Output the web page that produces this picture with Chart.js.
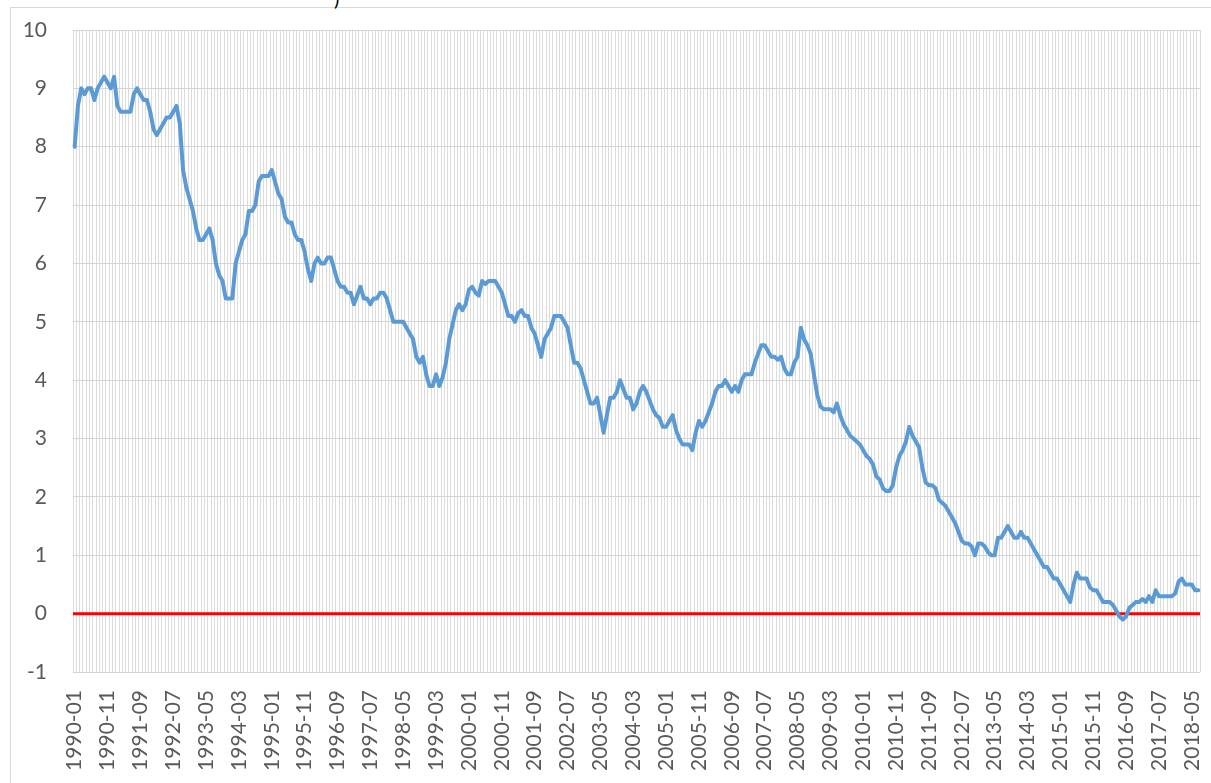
<!DOCTYPE html>
<html>
<head>
<meta charset="utf-8">
<script src="https://cdn.jsdelivr.net/npm/chart.js@4.4.1/dist/chart.umd.min.js"></script>
<style>
  html, body { margin: 0; padding: 0; background: #fff; }
  #wrap { position: relative; width: 1211px; height: 783px; overflow: hidden; }
  #frame { position: absolute; left: 10px; top: 7px; width: 1230px; height: 800px; border: 1px solid #d9d9d9; box-sizing: border-box; }
  #cut { position: absolute; left: 334px; top: -14px; font: 20px Lato, sans-serif; color: #000; }
  canvas { position: absolute; left: 0; top: 0; }
</style>
</head>
<body>
<div id="wrap">
  <div id="frame"></div>
  <div id="cut">)</div>
  <canvas id="chart" width="1211" height="783"></canvas>
</div>
<script>
// monthly values (1990-01 .. 2018-07)
const rates1990s = [
  8.0, 8.7, 9.0, 8.9, 9.0, 9.0, 8.8, 9.0, 9.1, 9.2, 9.1, 9.0,      // 1990
  9.2, 8.7, 8.6, 8.6, 8.6, 8.6, 8.9, 9.0, 8.9, 8.8, 8.8, 8.6,      // 1991
  8.3, 8.2, 8.3, 8.4, 8.5, 8.5, 8.6, 8.7, 8.4, 7.6, 7.3, 7.1,      // 1992
  6.9, 6.6, 6.4, 6.4, 6.5, 6.6, 6.4, 6.0, 5.8, 5.7, 5.4, 5.4,      // 1993
  5.4, 6.0, 6.2, 6.4, 6.5, 6.9, 6.9, 7.0, 7.4, 7.5, 7.5, 7.5,      // 1994
  7.6, 7.4, 7.2, 7.1, 6.8, 6.7, 6.7, 6.5, 6.4, 6.4, 6.2, 5.9,      // 1995
  5.7, 6.0, 6.1, 6.0, 6.0, 6.1, 6.1, 5.9, 5.7, 5.6, 5.6, 5.5,      // 1996
  5.5, 5.3, 5.45, 5.6, 5.4, 5.4, 5.3, 5.4, 5.4, 5.5, 5.5, 5.4,     // 1997
  5.2, 5.0, 5.0, 5.0, 5.0, 4.9, 4.8, 4.7, 4.4, 4.3, 4.4, 4.1,      // 1998
  3.9, 3.9, 4.1, 3.9, 4.05, 4.3, 4.7, 4.95, 5.2, 5.3, 5.2, 5.3     // 1999
];
const rates2000s = [
  5.55, 5.6, 5.5, 5.45, 5.7, 5.65, 5.7, 5.7, 5.7, 5.6, 5.5, 5.3,   // 2000
  5.1, 5.1, 5.0, 5.15, 5.2, 5.1, 5.1, 4.9, 4.8, 4.6, 4.4, 4.7,     // 2001
  4.8, 4.9, 5.1, 5.1, 5.1, 5.0, 4.9, 4.6, 4.3, 4.3, 4.2, 4.0,      // 2002
  3.8, 3.6, 3.6, 3.7, 3.4, 3.1, 3.4, 3.7, 3.7, 3.8, 4.0, 3.85,     // 2003
  3.7, 3.7, 3.5, 3.6, 3.8, 3.9, 3.8, 3.65, 3.5, 3.4, 3.35, 3.2,    // 2004
  3.2, 3.3, 3.4, 3.15, 3.0, 2.9, 2.9, 2.9, 2.8, 3.1, 3.3, 3.2,     // 2005
  3.3, 3.45, 3.6, 3.8, 3.9, 3.9, 4.0, 3.9, 3.8, 3.9, 3.8, 4.0,     // 2006
  4.1, 4.1, 4.1, 4.3, 4.45, 4.6, 4.6, 4.5, 4.4, 4.4, 4.35, 4.4,    // 2007
  4.2, 4.1, 4.1, 4.3, 4.4, 4.9, 4.7, 4.6, 4.45, 4.1, 3.75, 3.55,   // 2008
  3.5, 3.5, 3.5, 3.45, 3.6, 3.4, 3.25, 3.15, 3.05, 3.0, 2.95, 2.9  // 2009
];
const rates2010s = [
  2.8, 2.7, 2.65, 2.55, 2.35, 2.3, 2.15, 2.1, 2.1, 2.2, 2.5, 2.7,  // 2010
  2.8, 2.95, 3.2, 3.05, 2.95, 2.85, 2.5, 2.25, 2.2, 2.2, 2.15, 1.95, // 2011
  1.9, 1.85, 1.75, 1.65, 1.55, 1.4, 1.25, 1.2, 1.2, 1.15, 1.0, 1.2, // 2012
  1.2, 1.15, 1.05, 1.0, 1.0, 1.3, 1.3, 1.4, 1.5, 1.4, 1.3, 1.3,    // 2013
  1.4, 1.3, 1.3, 1.2, 1.1, 1.0, 0.9, 0.8, 0.8, 0.7, 0.6, 0.6,      // 2014
  0.5, 0.4, 0.3, 0.2, 0.5, 0.7, 0.6, 0.6, 0.6, 0.45, 0.4, 0.4,     // 2015
  0.3, 0.2, 0.2, 0.2, 0.15, 0.05, -0.05, -0.1, -0.05, 0.1, 0.15, 0.2, // 2016
  0.2, 0.25, 0.2, 0.3, 0.2, 0.4, 0.3, 0.3, 0.3, 0.3, 0.3, 0.35,    // 2017
  0.55, 0.6, 0.5, 0.5, 0.5, 0.4, 0.4                               // 2018
];
const values = rates1990s.concat(rates2000s, rates2010s);

const startYear = 1990;
const labelEvery = 10;
const yMin = -1, yMax = 10;

// categories "YYYY-MM"
const months = values.map((_, i) => {
  const y = startYear + Math.floor(i / 12);
  const m = (i % 12) + 1;
  return y + '-' + (m < 10 ? '0' + m : m);
});

const textColor = '#595959';
const fontFamily = 'Lato, "Open Sans", sans-serif';

// red reference line at 0
const zeroLine = {
  id: 'zeroLine',
  beforeDatasetsDraw(chart) {
    const { ctx, chartArea, scales } = chart;
    const y = scales.y.getPixelForValue(0);
    ctx.save();
    ctx.strokeStyle = '#ff0000';
    ctx.lineWidth = 3;
    ctx.beginPath();
    ctx.moveTo(chartArea.left, y);
    ctx.lineTo(chartArea.right, y);
    ctx.stroke();
    ctx.restore();
  }
};

new Chart(document.getElementById('chart'), {
  type: 'line',
  data: {
    labels: months,
    datasets: [{
      data: values,
      borderColor: '#5b9bd5',
      borderWidth: 4,
      borderJoinStyle: 'round',
      borderCapStyle: 'round',
      pointRadius: 0,
      tension: 0,
      fill: false
    }]
  },
  plugins: [zeroLine],
  options: {
    responsive: false,
    animation: false,
    layout: { padding: { left: 10, right: 11, top: 30, bottom: 0 } },
    plugins: { legend: { display: false }, tooltip: { enabled: false } },
    scales: {
      x: {
        type: 'category',
        offset: true,
        border: { display: false },
        grid: { offset: true, color: '#dcdcdc', lineWidth: 1, drawTicks: false },
        ticks: {
          autoSkip: false,
          maxRotation: 90,
          minRotation: 90,
          padding: 18,
          color: textColor,
          font: { family: fontFamily, size: 21 },
          callback: (v, i) => (i % labelEvery === 0 ? months[i] : '')
        },
        afterFit: s => { s.height = 111; s.paddingLeft = 0; s.paddingRight = 0; }
      },
      y: {
        min: yMin,
        max: yMax,
        border: { display: false },
        grid: { color: '#d4d4d4', lineWidth: 1, drawTicks: false },
        ticks: {
          stepSize: 1,
          padding: 26,
          color: textColor,
          font: { family: fontFamily, size: 21 }
        },
        afterFit: s => { s.width = 63; s.paddingTop = 0; s.paddingBottom = 0; }
      }
    }
  }
});
</script>
</body>
</html>
